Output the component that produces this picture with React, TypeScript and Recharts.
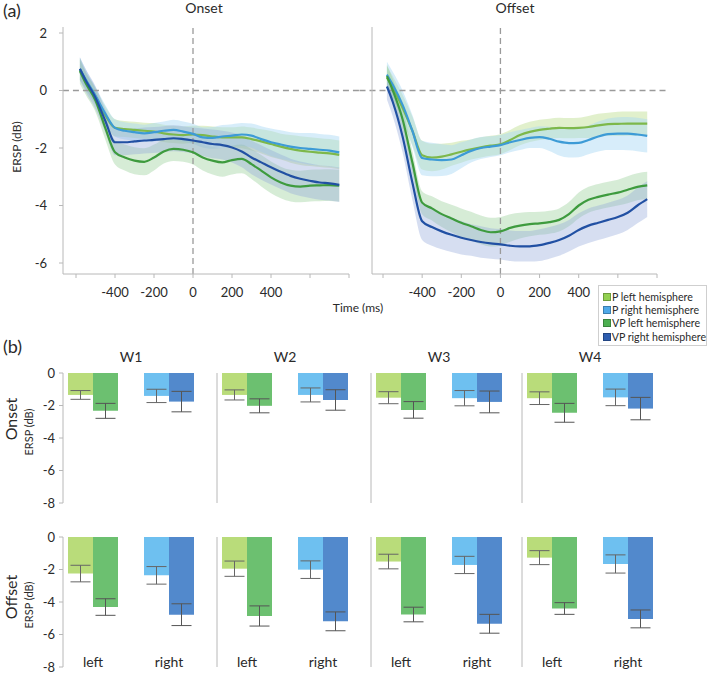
import React from 'react';
import {
  ComposedChart,
  Area,
  Line,
  XAxis,
  YAxis,
  ReferenceLine,
  BarChart,
  Bar,
  ErrorBar,
  Cell,
} from 'recharts';

// ---------- (a) time courses ----------
const timeMs = [-580, -550, -500, -450, -400, -350, -300, -250, -200, -150, -100, -50, 0, 50, 100, 150, 200, 250, 300, 350, 400, 450, 500, 550, 600, 650, 700, 750];
const timeTicks = [-600, -400, -200, 0, 200, 400, 600, 800];
const ytimeTicks = [-6, -4, -2, 0, 2];

const onsetPLeft = [0.72, 0.35, -0.2, -0.85, -1.3, -1.34, -1.37, -1.4, -1.43, -1.49, -1.53, -1.55, -1.53, -1.55, -1.6, -1.63, -1.63, -1.63, -1.69, -1.77, -1.86, -1.95, -2.03, -2.09, -2.13, -2.16, -2.19, -2.24];
const onsetPRight = [0.75, 0.38, -0.18, -0.8, -1.3, -1.4, -1.45, -1.49, -1.45, -1.4, -1.37, -1.43, -1.51, -1.63, -1.65, -1.6, -1.57, -1.53, -1.57, -1.69, -1.8, -1.88, -1.95, -2.0, -2.03, -2.06, -2.09, -2.15];
const onsetVPLeft = [0.68, 0.25, -0.35, -1.3, -2.15, -2.33, -2.44, -2.48, -2.33, -2.12, -2.03, -2.06, -2.15, -2.33, -2.44, -2.5, -2.42, -2.38, -2.56, -2.79, -3.02, -3.2, -3.31, -3.34, -3.31, -3.3, -3.29, -3.31];
const onsetVPRight = [0.76, 0.35, -0.25, -1.05, -1.8, -1.8, -1.77, -1.74, -1.72, -1.69, -1.66, -1.69, -1.74, -1.8, -1.86, -1.9, -1.98, -2.12, -2.33, -2.5, -2.67, -2.83, -2.97, -3.07, -3.14, -3.2, -3.23, -3.28];

const onsetPLeftCI = [0.35, 0.3, 0.3, 0.3, 0.3, 0.28, 0.28, 0.28, 0.3, 0.3, 0.3, 0.3, 0.3, 0.32, 0.35, 0.35, 0.35, 0.38, 0.4, 0.42, 0.45, 0.45, 0.48, 0.5, 0.5, 0.5, 0.5, 0.5];
const onsetPRightCI = [0.4, 0.35, 0.3, 0.3, 0.3, 0.3, 0.3, 0.3, 0.32, 0.32, 0.35, 0.35, 0.35, 0.35, 0.38, 0.4, 0.4, 0.4, 0.42, 0.45, 0.48, 0.5, 0.5, 0.52, 0.55, 0.55, 0.55, 0.55];
const onsetVPLeftCI = [0.45, 0.4, 0.4, 0.4, 0.42, 0.45, 0.47, 0.47, 0.45, 0.42, 0.42, 0.42, 0.42, 0.45, 0.48, 0.5, 0.5, 0.5, 0.52, 0.55, 0.55, 0.55, 0.55, 0.55, 0.55, 0.55, 0.55, 0.55];
const onsetVPRightCI = [0.4, 0.4, 0.4, 0.4, 0.45, 0.45, 0.45, 0.45, 0.45, 0.45, 0.45, 0.45, 0.45, 0.48, 0.5, 0.5, 0.52, 0.55, 0.58, 0.6, 0.6, 0.6, 0.6, 0.6, 0.6, 0.6, 0.6, 0.6];

const offsetPLeft = [0.45, 0.1, -0.6, -1.4, -2.25, -2.33, -2.3, -2.22, -2.13, -2.05, -1.98, -1.92, -1.87, -1.72, -1.55, -1.44, -1.37, -1.33, -1.3, -1.31, -1.3, -1.27, -1.21, -1.17, -1.16, -1.15, -1.15, -1.15];
const offsetPRight = [0.55, 0.2, -0.5, -1.4, -2.35, -2.4, -2.42, -2.4, -2.25, -2.1, -2.0, -1.95, -1.9, -1.8, -1.72, -1.65, -1.62, -1.68, -1.78, -1.83, -1.82, -1.72, -1.6, -1.52, -1.5, -1.5, -1.53, -1.58];
const offsetVPLeft = [0.5, 0.0, -1.0, -2.5, -3.9, -4.1, -4.3, -4.45, -4.6, -4.72, -4.85, -4.93, -4.9, -4.78, -4.7, -4.65, -4.62, -4.58, -4.5, -4.3, -4.0, -3.8, -3.7, -3.62, -3.55, -3.45, -3.35, -3.3];
const offsetVPRight = [0.14, -0.4, -1.6, -3.2, -4.55, -4.75, -4.9, -5.02, -5.12, -5.2, -5.27, -5.32, -5.35, -5.4, -5.42, -5.42, -5.38, -5.3, -5.2, -5.05, -4.85, -4.7, -4.6, -4.5, -4.4, -4.25, -4.0, -3.78];

const offsetPLeftCI = [0.4, 0.4, 0.45, 0.5, 0.5, 0.48, 0.45, 0.4, 0.38, 0.35, 0.35, 0.35, 0.35, 0.35, 0.35, 0.35, 0.35, 0.35, 0.35, 0.35, 0.35, 0.38, 0.4, 0.4, 0.42, 0.42, 0.42, 0.42];
const offsetPRightCI = [0.45, 0.45, 0.5, 0.55, 0.6, 0.58, 0.55, 0.5, 0.45, 0.4, 0.38, 0.36, 0.35, 0.35, 0.35, 0.35, 0.38, 0.42, 0.48, 0.5, 0.5, 0.5, 0.52, 0.55, 0.57, 0.58, 0.58, 0.58];
const offsetVPLeftCI = [0.4, 0.4, 0.4, 0.4, 0.4, 0.42, 0.45, 0.48, 0.5, 0.5, 0.5, 0.5, 0.5, 0.48, 0.45, 0.42, 0.4, 0.4, 0.4, 0.42, 0.45, 0.45, 0.45, 0.45, 0.45, 0.47, 0.47, 0.47];
const offsetVPRightCI = [0.45, 0.5, 0.55, 0.6, 0.65, 0.65, 0.62, 0.6, 0.58, 0.55, 0.55, 0.53, 0.53, 0.53, 0.53, 0.53, 0.55, 0.55, 0.55, 0.55, 0.58, 0.6, 0.6, 0.6, 0.6, 0.6, 0.62, 0.62];

// ---------- (b) window means ----------
const windows = ['W1', 'W2', 'W3', 'W4'];
const hemispheres = ['left', 'right'];
const barTicks = [-8, -6, -4, -2, 0];

const onsetBarPLeft = [-1.35, -1.35, -1.52, -1.55];
const onsetBarPRight = [-1.41, -1.35, -1.55, -1.5];
const onsetBarVPLeft = [-2.33, -2.02, -2.27, -2.45];
const onsetBarVPRight = [-1.76, -1.66, -1.78, -2.19];
const onsetErrPLeft = [0.27, 0.31, 0.37, 0.39];
const onsetErrPRight = [0.41, 0.43, 0.47, 0.51];
const onsetErrVPLeft = [0.46, 0.43, 0.51, 0.58];
const onsetErrVPRight = [0.63, 0.63, 0.67, 0.69];

const offsetBarPLeft = [-2.25, -1.95, -1.51, -1.27];
const offsetBarPRight = [-2.36, -2.01, -1.72, -1.66];
const offsetBarVPLeft = [-4.31, -4.86, -4.77, -4.4];
const offsetBarVPRight = [-4.78, -5.19, -5.34, -5.04];
const offsetErrPLeft = [0.51, 0.47, 0.45, 0.43];
const offsetErrPRight = [0.54, 0.54, 0.53, 0.56];
const offsetErrVPLeft = [0.51, 0.62, 0.45, 0.36];
const offsetErrVPRight = [0.67, 0.58, 0.58, 0.55];

const seriesNames = ['P left hemisphere', 'P right hemisphere', 'VP left hemisphere', 'VP right hemisphere'];
const lineColors = ['#7DB84A', '#3D9BD6', '#3E9B3E', '#2150A3'];
const bandColors = ['#C4E19A', '#A6D6F4', '#93CC93', '#93A8DA'];
const bandOpacity = [0.5, 0.45, 0.38, 0.38];
const barColors = ['#B9DC7A', '#6EC0F0', '#6CC070', '#5289CC'];
const legendColors = ['#92D050', '#4FA9E8', '#4CAF50', '#2E5DAF'];

const FONT = 'Lato, "Open Sans", sans-serif';
const AXIS = '#b8b8b8';
const TXT = '#2a2a2a';

function buildTimeRows(m: number[][], ci: number[][]) {
  return timeMs.map((t, i) => {
    const row: any = { t };
    ['pl', 'pr', 'vl', 'vr'].forEach((k, s) => {
      row[k] = m[s][i];
      row[k + 'Band'] = [m[s][i] - ci[s][i], m[s][i] + ci[s][i]];
    });
    return row;
  });
}

const onsetRows = buildTimeRows(
  [onsetPLeft, onsetPRight, onsetVPLeft, onsetVPRight],
  [onsetPLeftCI, onsetPRightCI, onsetVPLeftCI, onsetVPRightCI]
);
const offsetRows = buildTimeRows(
  [offsetPLeft, offsetPRight, offsetVPLeft, offsetVPRight],
  [offsetPLeftCI, offsetPRightCI, offsetVPLeftCI, offsetVPRightCI]
);

const seriesKeys = ['pl', 'pr', 'vl', 'vr'];

function TimePanel(props: {
  rows: any[];
  left: number;
  width: number;
  marginLeft: number;
  marginRight: number;
  yWidth: number;
  labels: boolean;
  padLeft: number;
  zeroFrom: number;
  zeroTo: number;
}) {
  const { rows, left, width, marginLeft, marginRight, yWidth, labels, padLeft, zeroFrom, zeroTo } = props;
  return (
    <div style={{ position: 'absolute', left, top: 0 }}>
      <ComposedChart
        width={width}
        height={305}
        data={rows}
        margin={{ top: 27, right: marginRight, bottom: 0, left: marginLeft }}
      >
        <XAxis
          dataKey="t"
          type="number"
          domain={[-600, 800]}
          ticks={timeTicks}
          interval={0}
          padding={{ left: padLeft, right: 0 }}
          height={31}
          axisLine={{ stroke: AXIS }}
          tickLine={{ stroke: AXIS }}
          tickSize={4}
          tickMargin={10}
          tick={{ fontSize: 13, fill: TXT }}
          tickFormatter={(v: number) => (v >= -400 && v <= 400 ? String(v) : '')}
        />
        <YAxis
          type="number"
          domain={[-6, 2]}
          ticks={ytimeTicks}
          width={yWidth}
          padding={{ top: 6, bottom: 11 }}
          axisLine={{ stroke: AXIS }}
          tickLine={{ stroke: AXIS }}
          tickSize={4}
          tickMargin={12}
          tick={labels ? { fontSize: 13, fill: TXT } : false}
        />
        <ReferenceLine
          segment={[{ x: zeroFrom, y: 0 }, { x: zeroTo, y: 0 }]}
          ifOverflow="visible"
          stroke="#9a9a9a"
          strokeWidth={1.3}
          strokeDasharray="6 4"
        />
        <ReferenceLine x={0} stroke="#9a9a9a" strokeWidth={1.3} strokeDasharray="6 4" />
        {seriesKeys.map((k, s) => (
          <Area
            key={k + 'b'}
            type="monotone"
            dataKey={k + 'Band'}
            stroke="none"
            fill={bandColors[s]}
            fillOpacity={bandOpacity[s]}
            isAnimationActive={false}
            activeDot={false}
          />
        ))}
        {seriesKeys.map((k, s) => (
          <Line
            key={k}
            type="monotone"
            dataKey={k}
            stroke={lineColors[s]}
            strokeWidth={2.2}
            dot={false}
            activeDot={false}
            isAnimationActive={false}
          />
        ))}
      </ComposedChart>
    </div>
  );
}

function buildBarRows(pl: number[], pr: number[], vl: number[], vr: number[], epl: number[], epr: number[], evl: number[], evr: number[], w: number) {
  return [
    { hemi: hemispheres[0], p: pl[w], pErr: epl[w], vp: vl[w], vpErr: evl[w] },
    { hemi: hemispheres[1], p: pr[w], pErr: epr[w], vp: vr[w], vpErr: evr[w] },
  ];
}

const renderCatTick = (props: any) => (
  <text x={props.x} y={props.y} textAnchor="middle" fontSize={14} fill={TXT}>
    {props.payload.value}
  </text>
);

function BarPanel(props: { rows: any[]; axisX: number; top: number; first: boolean; showCats: boolean }) {
  const { rows, axisX, top, first, showCats } = props;
  const yW = first ? 40 : 10;
  return (
    <div style={{ position: 'absolute', left: axisX - yW, top }}>
      <BarChart
        width={yW + 146}
        height={146}
        data={rows}
        margin={{ top: 8, right: 2, bottom: showCats ? 7 : 8, left: 0 }}
        barGap={0}
        barSize={25}
      >
        <XAxis
          dataKey="hemi"
          hide={!showCats}
          height={1}
          axisLine={false}
          tickLine={false}
          tickSize={0}
          tickMargin={0}
          interval={0}
          padding={{ left: -8, right: 0 }}
          tick={renderCatTick}
        />
        <YAxis
          type="number"
          domain={[-8, 0]}
          ticks={barTicks}
          interval={0}
          width={yW}
          axisLine={{ stroke: AXIS }}
          tickLine={{ stroke: AXIS }}
          tickSize={4}
          tickMargin={4}
          tick={first ? { fontSize: 13, fill: TXT } : false}
        />
        <Bar dataKey="p" isAnimationActive={false}>
          {rows.map((r, i) => (
            <Cell key={i} fill={barColors[i]} />
          ))}
          <ErrorBar dataKey="pErr" width={10} stroke="#666" strokeWidth={1} direction="y" />
        </Bar>
        <Bar dataKey="vp" isAnimationActive={false}>
          {rows.map((r, i) => (
            <Cell key={i} fill={barColors[i + 2]} />
          ))}
          <ErrorBar dataKey="vpErr" width={10} stroke="#555" strokeWidth={1} direction="y" />
        </Bar>
      </BarChart>
    </div>
  );
}

const panelAxisX = [63, 217, 371, 522];

export default function App() {
  return (
    <div
      style={{
        position: 'absolute',
        left: 0,
        top: 0,
        width: 709,
        height: 675,
        background: '#fff',
        fontFamily: FONT,
        overflow: 'hidden',
      }}
    >
      <TimePanel rows={onsetRows} left={0} width={370} marginLeft={33} marginRight={21} yWidth={30} labels padLeft={13} zeroFrom={-667} zeroTo={858} />
      <TimePanel rows={offsetRows} left={340} width={335} marginLeft={20} marginRight={18} yWidth={12} labels={false} padLeft={11} zeroFrom={-720} zeroTo={856} />

      {windows.map((w, i) => (
        <BarPanel
          key={'on' + w}
          rows={buildBarRows(onsetBarPLeft, onsetBarPRight, onsetBarVPLeft, onsetBarVPRight, onsetErrPLeft, onsetErrPRight, onsetErrVPLeft, onsetErrVPRight, i)}
          axisX={panelAxisX[i]}
          top={365}
          first={i === 0}
          showCats={false}
        />
      ))}
      {windows.map((w, i) => (
        <BarPanel
          key={'off' + w}
          rows={buildBarRows(offsetBarPLeft, offsetBarPRight, offsetBarVPLeft, offsetBarVPRight, offsetErrPLeft, offsetErrPRight, offsetErrVPLeft, offsetErrVPRight, i)}
          axisX={panelAxisX[i]}
          top={529}
          first={i === 0}
          showCats
        />
      ))}

      <div
        style={{
          position: 'absolute',
          left: 598,
          top: 285,
          width: 109,
          height: 61,
          boxSizing: 'border-box',
          border: '1px solid #cfcfcf',
          background: '#fff',
          paddingTop: 4,
          paddingLeft: 4,
          fontSize: 10.6,
          color: TXT,
        }}
      >
        {seriesNames.map((n, i) => (
          <div key={n} style={{ display: 'flex', alignItems: 'center', height: 13.4, whiteSpace: 'nowrap' }}>
            <span
              style={{
                display: 'inline-block',
                width: 8,
                height: 8,
                background: legendColors[i],
                border: '0.5px solid rgba(0,0,0,0.25)',
                boxSizing: 'border-box',
                marginRight: 1,
              }}
            />
            <span>{n}</span>
          </div>
        ))}
      </div>

      <svg
        width={709}
        height={675}
        style={{ position: 'absolute', left: 0, top: 0, pointerEvents: 'none' }}
        fontFamily={FONT}
        fill={TXT}
      >
        <text x={3} y={17} fontSize={18}>(a)</text>
        <text x={204} y={13} fontSize={14} textAnchor="middle">Onset</text>
        <text x={515} y={13} fontSize={14} textAnchor="middle">Offset</text>
        <text transform="translate(21,147) rotate(-90)" fontSize={12} textAnchor="middle">ERSP (dB)</text>
        <text x={358} y={312} fontSize={12} textAnchor="middle">Time (ms)</text>

        <text x={3} y={353} fontSize={18}>(b)</text>
        {windows.map((w, i) => (
          <text key={w} x={panelAxisX[i] + 68} y={362} fontSize={14} textAnchor="middle">{w}</text>
        ))}
        <text transform="translate(17,419) rotate(-90)" fontSize={16} textAnchor="middle">Onset</text>
        <text transform="translate(33,432) rotate(-90)" fontSize={11} textAnchor="middle">ERSP (dB)</text>
        <text transform="translate(17,597) rotate(-90)" fontSize={16} textAnchor="middle">Offset</text>
        <text transform="translate(33,605) rotate(-90)" fontSize={11} textAnchor="middle">ERSP (dB)</text>
      </svg>
    </div>
  );
}
